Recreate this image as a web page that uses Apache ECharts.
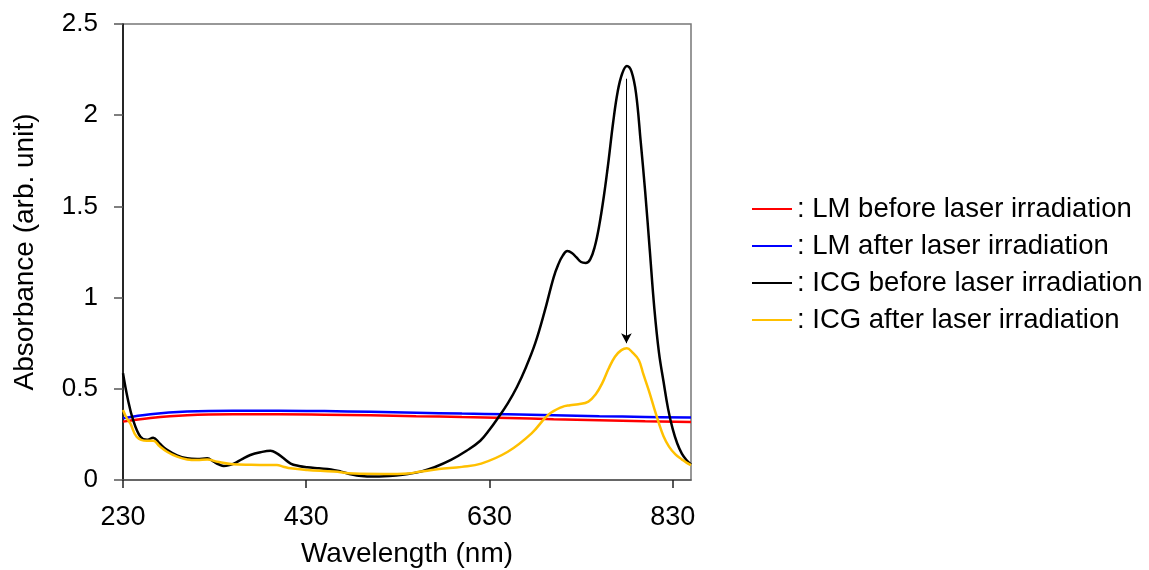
<!DOCTYPE html>
<html>
<head>
<meta charset="utf-8">
<title>Absorbance</title>
<script src="https://cdn.jsdelivr.net/npm/echarts@6/dist/echarts.min.js"></script>
<style>
  html, body { margin: 0; padding: 0; background: #fff; }
  #main { width: 1149px; height: 570px; }
</style>
</head>
<body>
<div id="main"></div>
<script>
  // LM curves (flat)
  let lmWave = [230, 260, 300, 350, 400, 450, 500, 550, 600, 650, 700, 750, 800, 850];
  let lmBefore = [0.32, 0.34, 0.355, 0.36, 0.36, 0.358, 0.355, 0.35, 0.345, 0.34, 0.333, 0.328, 0.322, 0.318];
  let lmAfter = [0.338, 0.36, 0.375, 0.38, 0.38, 0.378, 0.374, 0.369, 0.364, 0.36, 0.355, 0.35, 0.346, 0.342];

  // ICG before laser
  let icgWaveBefore = [230, 235, 241, 249, 256, 263, 270, 278, 289, 300, 311, 322, 329, 335, 340, 345, 351, 360, 369, 380,
    391, 398, 405, 413, 422, 431, 444, 457, 468, 480, 490, 503, 515, 528, 541, 555, 570, 588, 605, 620,
    630, 640, 650, 660, 670, 680, 690, 700, 705, 710, 715, 720, 725, 730, 735, 740, 745, 750, 755, 760,
    765, 770, 775, 780, 785, 790, 795, 800, 805, 810, 815, 820, 825, 830, 835, 840, 845, 850];
  let icgBefore = [0.585, 0.45, 0.33, 0.237, 0.22, 0.232, 0.2, 0.165, 0.135, 0.119, 0.115, 0.119, 0.10, 0.085, 0.077, 0.08, 0.09, 0.115, 0.137, 0.152,
    0.16, 0.146, 0.12, 0.09, 0.077, 0.07, 0.064, 0.058, 0.046, 0.03, 0.022, 0.019, 0.02, 0.025, 0.033, 0.046, 0.07, 0.11, 0.16, 0.215,
    0.275, 0.345, 0.42, 0.51, 0.62, 0.75, 0.92, 1.11, 1.18, 1.23, 1.255, 1.245, 1.22, 1.195, 1.19, 1.21, 1.28, 1.40, 1.56, 1.75,
    1.96, 2.13, 2.23, 2.27, 2.24, 2.12, 1.86, 1.58, 1.26, 0.94, 0.70, 0.54, 0.39, 0.28, 0.20, 0.145, 0.11, 0.085];

  // ICG after laser
  let icgWaveAfter = [230, 234, 238, 245, 256, 263, 270, 278, 289, 300, 311, 322, 333, 350, 370, 388, 398, 405, 413, 431,
    460, 482, 515, 541, 555, 575, 600, 621, 650, 676, 694, 709, 718, 727, 738, 746, 753, 760, 767, 774,
    780, 786, 793, 798, 804, 810, 815, 820, 826, 833, 840, 845, 850];
  let icgAfter = [0.384, 0.34, 0.31, 0.237, 0.215, 0.215, 0.185, 0.155, 0.128, 0.113, 0.11, 0.113, 0.10, 0.086, 0.083, 0.082, 0.082, 0.073, 0.064, 0.055,
    0.046, 0.035, 0.033, 0.036, 0.046, 0.06, 0.072, 0.09, 0.155, 0.256, 0.356, 0.40, 0.41, 0.415, 0.43, 0.47, 0.53, 0.61, 0.676, 0.712,
    0.722, 0.70, 0.658, 0.58, 0.49, 0.39, 0.31, 0.24, 0.183, 0.14, 0.113, 0.095, 0.082];

  // arrow from ICG peak down to the bleached peak
  let arrowFrom = [779.5, 2.2];
  let arrowTo = [779.5, 0.75];

  let seriesNames = [': LM before laser irradiation', ': LM after laser irradiation',
    ': ICG before laser irradiation', ': ICG after laser irradiation'];
  let seriesColors = ['#ff0000', '#0000ff', '#000000', '#ffc000'];

  function pairs(xs, ys) {
    return xs.map((x, i) => [x, ys[i]]);
  }

  let font = 'Liberation Sans, Arial, sans-serif';

  function lineSeries(name, color, data) {
    return {
      name: name,
      type: 'line',
      data: data,
      smooth: 0.4,
      showSymbol: false,
      symbol: 'none',
      lineStyle: {color: color, width: 2.5},
      itemStyle: {color: color},
      animation: false
    };
  }

  let chart = echarts.init(document.getElementById('main'));

  let icgBeforeSeries = lineSeries(seriesNames[2], seriesColors[2], pairs(icgWaveBefore, icgBefore));
  icgBeforeSeries.markLine = {
    silent: true,
    symbol: ['none', 'arrow'],
    symbolSize: [8, 10],
    label: {show: false},
    lineStyle: {color: '#000', width: 1, type: 'solid'},
    data: [[{coord: arrowFrom}, {coord: arrowTo}]]
  };

  chart.setOption({
    backgroundColor: '#fff',
    grid: {
      left: 123,
      top: 24,
      right: 458,
      bottom: 90,
      containLabel: false,
      outerBoundsMode: 'none',
      show: true,
      borderColor: '#777',
      borderWidth: 1.5
    },
    legend: {
      orient: 'vertical',
      left: 747,
      top: 190,
      itemWidth: 40,
      itemHeight: 2,
      itemGap: 9,
      icon: 'rect',
      data: seriesNames,
      textStyle: {fontFamily: font, fontSize: 27.5, color: '#000', lineHeight: 27}
    },
    xAxis: {
      type: 'value',
      min: 230,
      max: 850,
      interval: 200,
      name: 'Wavelength (nm)',
      nameLocation: 'middle',
      nameGap: 60,
      nameTextStyle: {fontFamily: font, fontSize: 28, color: '#000'},
      axisLine: {show: true, lineStyle: {color: '#555', width: 1.5}},
      axisTick: {show: true, length: 8, lineStyle: {color: '#222', width: 1.5}},
      axisLabel: {fontFamily: font, fontSize: 27, color: '#000', margin: 24, showMaxLabel: false},
      splitLine: {show: false}
    },
    yAxis: {
      type: 'value',
      min: 0,
      max: 2.5,
      interval: 0.5,
      name: 'Absorbance (arb. unit)',
      nameLocation: 'middle',
      nameGap: 84,
      nameTextStyle: {fontFamily: font, fontSize: 28, color: '#000'},
      axisLine: {show: true, lineStyle: {color: '#000', width: 1.5}},
      axisTick: {show: true, length: 9, lineStyle: {color: '#555', width: 1.5}},
      axisLabel: {fontFamily: font, fontSize: 26, color: '#000', margin: 25},
      splitLine: {show: false}
    },
    series: [
      lineSeries(seriesNames[0], seriesColors[0], pairs(lmWave, lmBefore)),
      lineSeries(seriesNames[1], seriesColors[1], pairs(lmWave, lmAfter)),
      icgBeforeSeries,
      lineSeries(seriesNames[3], seriesColors[3], pairs(icgWaveAfter, icgAfter))
    ]
  });
</script>
</body>
</html>
